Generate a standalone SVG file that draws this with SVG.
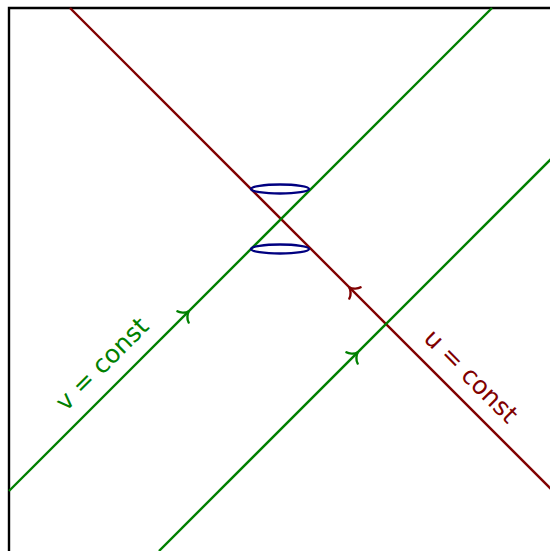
<svg xmlns="http://www.w3.org/2000/svg" width="550" height="551" viewBox="0 0 550 551">
<style>
.frame{fill:none;stroke:#000;stroke-width:2.4}
.red{fill:none;stroke:#800000;stroke-width:2.4}
.green{fill:none;stroke:#008000;stroke-width:2.4}
.cone{fill:none;stroke:#000080;stroke-width:2.4}
.lbl{font-family:"DejaVu Sans",sans-serif;font-size:25px;text-anchor:middle}
</style>
<defs>
<path id="arr" d="M -7,-8 C -6.3,-4.5 -1.8,-0.7 1.2,0 C -1.8,0.7 -6.3,4.5 -7,8" stroke-linecap="round"/>
</defs>
<rect width="550" height="551" fill="#fff"/>
<g id="frame">
<polyline class="frame" points="9,551 9,8 550,8"/>
</g>
<g id="connectors">
<line class="red" x1="70" y1="8" x2="552" y2="490"/>
<line class="green" x1="9" y1="491" x2="492" y2="8"/>
<line class="green" x1="159" y1="551" x2="552" y2="158"/>
<use href="#arr" class="red" transform="translate(350,288) rotate(-135)"/>
<use href="#arr" class="green" transform="translate(188,312) rotate(-45)"/>
<use href="#arr" class="green" transform="translate(357,353) rotate(-45)"/>
</g>
<g id="cone-top">
<ellipse class="cone" cx="280" cy="189" rx="29" ry="4.5"/>
</g>
<g id="cone-bottom">
<ellipse class="cone" cx="280" cy="249" rx="29" ry="4.5"/>
</g>
<g id="label-v">
<text class="lbl" fill="#008000" transform="translate(108,370) rotate(-45)">v = const</text>
</g>
<g id="label-u">
<text class="lbl" fill="#800000" transform="translate(465,382) rotate(45)">u = const</text>
</g>
</svg>
